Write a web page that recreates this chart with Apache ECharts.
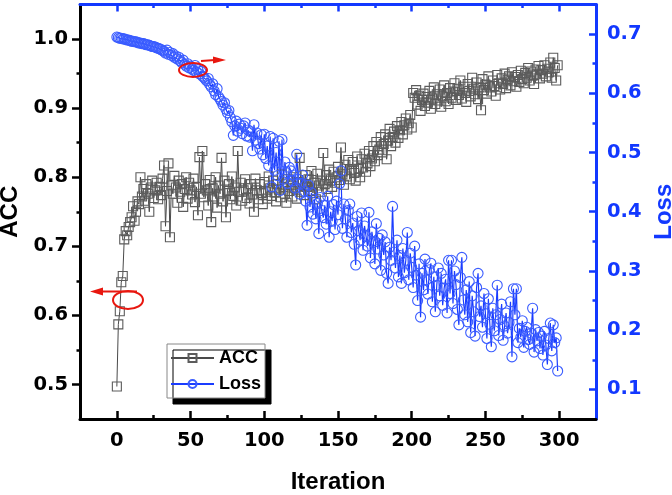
<!DOCTYPE html>
<html>
<head>
<meta charset="utf-8">
<script src="https://cdn.jsdelivr.net/npm/echarts@6/dist/echarts.min.js"></script>
<style>html,body{margin:0;padding:0;background:#fff}#c{width:672px;height:495px}</style>
</head>
<body>
<div id="c"></div>
<script>
// ACC values, one per iteration starting at 0
var accValues = [
0.497,0.587,0.606,0.648,0.657,0.710,0.722,0.716,0.728,0.735,
0.742,0.758,0.737,0.750,0.765,0.761,0.800,0.772,0.783,0.766,
0.790,0.776,0.750,0.785,0.795,0.770,0.781,0.792,0.768,0.786,
0.774,0.798,0.817,0.729,0.780,0.820,0.713,0.788,0.776,0.802,
0.785,0.763,0.795,0.779,0.790,0.757,0.783,0.800,0.769,0.792,
0.781,0.775,0.798,0.764,0.786,0.745,0.829,0.776,0.838,0.771,
0.790,0.781,0.759,0.796,0.735,0.784,0.772,0.800,0.756,0.788,
0.776,0.828,0.765,0.795,0.742,0.780,0.790,0.768,0.801,0.773,
0.785,0.759,0.838,0.779,0.792,0.766,0.781,0.797,0.770,0.784,
0.762,0.790,0.775,0.750,0.798,0.781,0.768,0.790,0.777,0.761,
0.793,0.779,0.769,0.801,0.784,0.773,0.795,0.778,0.765,0.790,
0.782,0.771,0.804,0.786,0.776,0.763,0.797,0.780,0.789,0.772,
0.800,0.784,0.769,0.793,0.828,0.779,0.791,0.774,0.803,0.786,
0.797,0.780,0.809,0.777,0.792,0.768,0.805,0.788,0.795,0.779,
0.835,0.790,0.803,0.783,0.811,0.795,0.786,0.808,0.792,0.800,
0.815,0.796,0.843,0.804,0.789,0.818,0.801,0.825,0.797,0.811,
0.822,0.806,0.795,0.830,0.812,0.800,0.826,0.814,0.834,0.808,
0.820,0.838,0.816,0.827,0.845,0.823,0.851,0.832,0.840,0.858,
0.836,0.848,0.862,0.826,0.853,0.870,0.845,0.858,0.866,0.850,
0.874,0.857,0.868,0.880,0.862,0.875,0.885,0.869,0.878,0.890,
0.872,0.922,0.915,0.926,0.905,0.918,0.896,0.912,0.921,0.903,
0.916,0.908,0.925,0.899,0.914,0.930,0.906,0.920,0.911,0.927,
0.902,0.917,0.933,0.910,0.922,0.906,0.929,0.915,0.924,0.936,
0.912,0.928,0.919,0.940,0.914,0.931,0.922,0.909,0.935,0.925,
0.917,0.944,0.928,0.920,0.937,0.913,0.930,0.897,0.942,0.926,
0.934,0.921,0.946,0.930,0.924,0.940,0.932,0.918,0.948,0.936,
0.927,0.943,0.935,0.950,0.929,0.941,0.946,0.933,0.952,0.939,
0.945,0.931,0.948,0.938,0.954,0.942,0.936,0.951,0.944,0.958,
0.940,0.953,0.947,0.935,0.956,0.949,0.961,0.943,0.955,0.950,
0.962,0.946,0.957,0.952,0.966,0.944,0.973,0.958,0.940,0.962
];
// Loss values, one per iteration starting at 0
var lossValues = [
0.695,0.694,0.693,0.693,0.692,0.692,0.691,0.690,0.690,0.689,
0.688,0.688,0.687,0.687,0.686,0.685,0.685,0.684,0.684,0.683,
0.682,0.682,0.681,0.680,0.679,0.679,0.678,0.677,0.676,0.675,
0.674,0.672,0.671,0.668,0.673,0.666,0.669,0.664,0.667,0.661,
0.663,0.658,0.661,0.655,0.652,0.656,0.649,0.646,0.650,0.643,
0.646,0.641,0.639,0.647,0.636,0.640,0.633,0.637,0.629,0.627,
0.624,0.621,0.625,0.615,0.611,0.616,0.604,0.598,0.608,0.594,
0.590,0.586,0.580,0.584,0.573,0.567,0.571,0.559,0.552,0.529,
0.545,0.553,0.536,0.548,0.541,0.532,0.545,0.550,0.528,0.538,
0.526,0.535,0.503,0.547,0.521,0.533,0.515,0.506,0.530,0.496,
0.531,0.490,0.511,0.478,0.527,0.442,0.524,0.470,0.500,0.461,
0.519,0.436,0.522,0.455,0.484,0.466,0.448,0.475,0.469,0.452,
0.462,0.440,0.497,0.455,0.430,0.448,0.462,0.435,0.418,0.377,
0.445,0.408,0.432,0.396,0.421,0.388,0.414,0.363,0.424,0.402,
0.390,0.411,0.379,0.426,0.357,0.400,0.384,0.412,0.370,0.418,
0.395,0.447,0.469,0.372,0.413,0.388,0.357,0.402,0.413,0.365,
0.381,0.345,0.310,0.392,0.368,0.352,0.398,0.335,0.376,0.359,
0.342,0.399,0.322,0.366,0.348,0.312,0.380,0.337,0.355,0.301,
0.361,0.327,0.349,0.296,0.279,0.340,0.318,0.409,0.332,0.305,
0.352,0.290,0.326,0.279,0.338,0.297,0.318,0.365,0.285,0.330,
0.306,0.272,0.342,0.293,0.250,0.312,0.222,0.296,0.268,0.320,
0.285,0.261,0.302,0.313,0.248,0.290,0.231,0.276,0.305,0.258,
0.296,0.242,0.271,0.286,0.229,0.318,0.262,0.318,0.245,0.300,
0.277,0.235,0.209,0.289,0.323,0.251,0.226,0.268,0.214,0.282,
0.196,0.258,0.231,0.190,0.272,0.296,0.223,0.241,0.205,0.262,
0.228,0.186,0.253,0.210,0.172,0.237,0.199,0.226,0.276,0.191,
0.218,0.244,0.183,0.207,0.229,0.195,0.213,0.248,0.155,0.270,
0.226,0.270,0.179,0.203,0.188,0.216,0.171,0.198,0.205,0.184,
0.176,0.195,0.237,0.163,0.201,0.182,0.196,0.169,0.190,0.158,
0.198,0.175,0.142,0.186,0.212,0.165,0.209,0.179,0.187,0.131
];
var xMajorTicks = [0, 50, 100, 150, 200, 250, 300];
var xMinorTicks = [25, 75, 125, 175, 225, 275];
var accMajorTicks = [0.5, 0.6, 0.7, 0.8, 0.9, 1.0];
var accMinorTicks = [0.55, 0.65, 0.75, 0.85, 0.95];
var lossMajorTicks = [0.1, 0.2, 0.3, 0.4, 0.5, 0.6, 0.7];
var lossMinorTicks = [0.15, 0.25, 0.35, 0.45, 0.55, 0.65];

var BLUE = '#1238ff';
var labelFont = {fontFamily: 'DejaVu Sans', fontWeight: 'bold', fontSize: 19.5};
var titleFont = {fontFamily: 'Liberation Sans', fontWeight: 'bold', fontSize: 24};

function pairs(vals) { return vals.map(function (v, i) { return [i, v]; }); }

function xAx(pos, color, ticks, len, showLine, labels, extra) {
  var a = {
    type: 'value', position: pos, min: -25, max: 325, interval: 25,
    axisLine: {show: showLine, onZero: false, lineStyle: {color: color, width: 3}},
    axisTick: {show: true, inside: true, length: len, customValues: ticks, lineStyle: {color: color, width: 2.5}},
    axisLabel: labels ? Object.assign({show: true, customValues: labels, margin: 12, color: '#000'}, labelFont) : {show: false},
    splitLine: {show: false}
  };
  return Object.assign(a, extra || {});
}
function yAx(pos, color, min, max, ticks, len, inside, showLine, labels, margin, extra) {
  var a = {
    type: 'value', position: pos, min: min, max: max, interval: 0.05,
    axisLine: {show: showLine, onZero: false, lineStyle: {color: color, width: 3}},
    axisTick: {show: true, inside: inside, length: len, customValues: ticks, lineStyle: {color: color, width: 2.5}},
    axisLabel: labels ? Object.assign({show: true, customValues: labels, margin: margin, color: color,
      formatter: function (v) { return v.toFixed(1); }}, labelFont) : {show: false},
    splitLine: {show: false}
  };
  return Object.assign(a, extra || {});
}

var chart = echarts.init(document.getElementById('c'), null, {renderer: 'canvas'});
chart.setOption({
  animation: false,
  backgroundColor: '#fff',
  grid: {left: 80, right: 76, top: 4.5, bottom: 76, outerBoundsMode: 'none'},
  xAxis: [
    xAx('bottom', '#000', xMajorTicks, 8, true, xMajorTicks, {
      name: 'Iteration', nameLocation: 'middle', nameGap: 51,
      nameTextStyle: Object.assign({color: '#000'}, titleFont)}),
    xAx('bottom', '#000', xMinorTicks, 4, false, null),
    xAx('top', BLUE, xMajorTicks, 7, true, null),
    xAx('top', BLUE, xMinorTicks, 3.5, false, null)
  ],
  yAxis: [
    yAx('left', '#000', 0.45, 1.05, accMajorTicks, 8, false, true, accMajorTicks, 12, {
      name: 'ACC', nameLocation: 'middle', nameGap: 53, nameRotate: 90,
      nameTextStyle: Object.assign({color: '#000'}, titleFont)}),
    yAx('left', '#000', 0.45, 1.05, accMinorTicks, 3.5, false, false, null),
    yAx('right', BLUE, 0.05, 0.75, lossMajorTicks, 7, true, true, lossMajorTicks, 11, {
      name: 'Loss', nameLocation: 'middle', nameGap: 52, nameRotate: 90,
      nameTextStyle: Object.assign({color: BLUE}, titleFont)}),
    yAx('right', BLUE, 0.05, 0.75, lossMinorTicks, 3.5, true, false, null)
  ],
  legend: {
    orient: 'vertical', left: 167, top: 344,
    padding: [5, 4, 5, 3], itemGap: 8, itemWidth: 43, itemHeight: 10,
    backgroundColor: '#fff', borderColor: '#888', borderWidth: 1,
    shadowColor: '#000', shadowOffsetX: 6, shadowOffsetY: 6, shadowBlur: 0,
    textStyle: {fontFamily: 'Liberation Sans', fontWeight: 'bold', fontSize: 18, color: '#000'},
    data: ['ACC', 'Loss']
  },
  series: [
    {
      name: 'ACC', type: 'line', xAxisIndex: 0, yAxisIndex: 0,
      data: pairs(accValues),
      symbol: 'rect', symbolSize: 9,
      lineStyle: {color: '#4a4a4a', width: 1},
      itemStyle: {color: 'rgba(255,255,255,0)', borderColor: '#5c5c5c', borderWidth: 1.1},
      emphasis: {disabled: true}
    },
    {
      name: 'Loss', type: 'line', xAxisIndex: 0, yAxisIndex: 2,
      data: pairs(lossValues),
      symbol: 'circle', symbolSize: 10,
      lineStyle: {color: '#1a3cff', width: 1.2},
      itemStyle: {color: 'rgba(255,255,255,0)', borderColor: '#3a5cff', borderWidth: 1.1},
      emphasis: {disabled: true}
    }
  ],
  graphic: [
    {type: 'ellipse', shape: {cx: 193, cy: 70, rx: 14, ry: 7}, style: {fill: 'none', stroke: '#e8170f', lineWidth: 2}, z: 100},
    {type: 'line', shape: {x1: 201, y1: 61, x2: 215, y2: 60}, style: {stroke: '#e8170f', lineWidth: 2}, z: 100},
    {type: 'polygon', shape: {points: [[213, 56.5], [226, 60], [213, 63.5]]}, style: {fill: '#e8170f'}, z: 100},
    {type: 'ellipse', shape: {cx: 128, cy: 300, rx: 15, ry: 9}, style: {fill: 'none', stroke: '#e8170f', lineWidth: 2}, z: 100},
    {type: 'line', shape: {x1: 101, y1: 291.5, x2: 137, y2: 291.5}, style: {stroke: '#e8170f', lineWidth: 2}, z: 100},
    {type: 'polygon', shape: {points: [[103, 287.5], [90, 291.5], [103, 295.5]]}, style: {fill: '#e8170f'}, z: 100}
  ]
});
</script>
</body>
</html>
